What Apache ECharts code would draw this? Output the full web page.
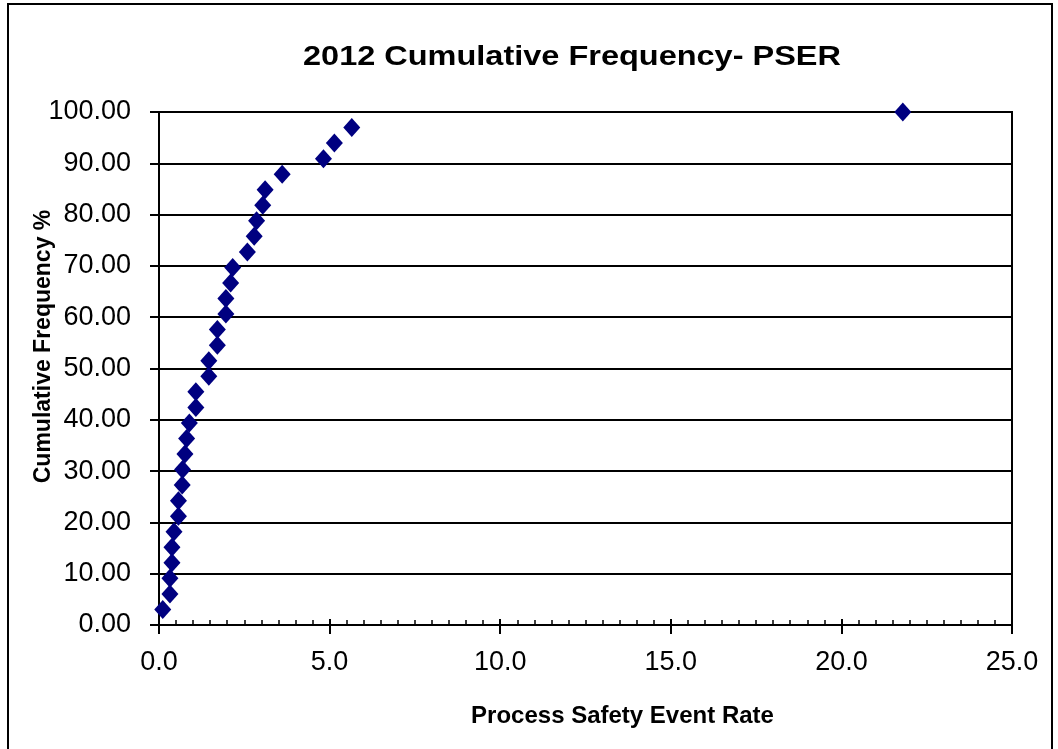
<!DOCTYPE html>
<html>
<head>
<meta charset="utf-8">
<script src="https://cdn.jsdelivr.net/npm/echarts@6/dist/echarts.min.js"></script>
<style>
html,body{margin:0;padding:0;background:#fff;}
#chart{width:1058px;height:749px;}
</style>
</head>
<body>
<div id="chart"></div>
<script>
// Process Safety Event Rate (x) for each point
const rates = [0.11, 0.32, 0.32, 0.38, 0.38, 0.44, 0.57, 0.57, 0.68, 0.69, 0.76, 0.81, 0.89, 1.08, 1.08, 1.46, 1.46, 1.71, 1.71, 1.96, 1.96, 2.10, 2.16, 2.59, 2.79, 2.86, 3.04, 3.11, 3.61, 4.82, 5.14, 5.65, 21.80];
// Cumulative Frequency % (y) for each point
const cumFreq = [3.03, 6.06, 9.09, 12.12, 15.15, 18.18, 21.21, 24.24, 27.27, 30.30, 33.33, 36.36, 39.39, 42.42, 45.45, 48.48, 51.52, 54.55, 57.58, 60.61, 63.64, 66.67, 69.70, 72.73, 75.76, 78.79, 81.82, 84.85, 87.88, 90.91, 93.94, 96.97, 100.00];
const titleText = '2012 Cumulative Frequency- PSER';
const xName = 'Process Safety Event Rate';
const yName = 'Cumulative Frequency %';

const points = rates.map((r, i) => [r, cumFreq[i]]);
const FONT = 'Liberation Sans, Arial, sans-serif';

const chart = echarts.init(document.getElementById('chart'));
chart.setOption({
  backgroundColor: '#fff',
  animation: false,
  graphic: [
    {
      type: 'rect', z: 0, silent: true,
      shape: { x: 8, y: 4, width: 1044, height: 800 },
      style: { fill: 'none', stroke: '#000', lineWidth: 2 }
    },
    {
      type: 'text', z: 10, x: 572, y: 57, scaleX: 1.16,
      style: {
        text: titleText, fill: '#000',
        font: 'bold 28px "Liberation Sans", Arial, sans-serif',
        textAlign: 'center', textVerticalAlign: 'middle'
      }
    }
  ],
  grid: {
    left: 159, right: 46, top: 112, bottom: 124,
    show: true, borderColor: '#000', borderWidth: 2, backgroundColor: '#fff'
  },
  xAxis: [
    {
      type: 'value', position: 'bottom', min: 0, max: 25, interval: 5,
      name: xName, nameLocation: 'middle', nameGap: 79, nameMoveOverlap: false,
      nameTextStyle: { fontFamily: FONT, fontWeight: 'bold', fontSize: 24, color: '#000', padding: [0, 0, 0, 74] },
      axisLine: { show: true, onZero: false, lineStyle: { color: '#000', width: 2 } },
      axisTick: { show: true, inside: false, length: 9, lineStyle: { color: '#000', width: 2 } },
      axisLabel: { fontFamily: FONT, fontSize: 27, color: '#000', margin: 24, formatter: v => v.toFixed(1) },
      splitLine: { show: false }
    },
    {
      type: 'value', position: 'bottom', offset: 0, min: 0, max: 25, interval: 5,
      axisLine: { show: false },
      axisTick: { show: true, inside: true, length: 6, lineStyle: { color: '#000', width: 2 } },
      minorTick: { show: true, splitNumber: 10, length: 5, lineStyle: { color: '#000', width: 1.5 } },
      axisLabel: { show: false },
      splitLine: { show: false }
    }
  ],
  yAxis: {
    type: 'value', min: 0, max: 100, interval: 10,
    name: yName, nameLocation: 'middle', nameGap: 104, nameRotate: 90, nameMoveOverlap: false,
    nameTextStyle: { fontFamily: FONT, fontWeight: 'bold', fontSize: 23, color: '#000', padding: [0, 0, 0, 44] },
    axisLine: { show: true, onZero: false, lineStyle: { color: '#000', width: 2 } },
    axisTick: { show: true, inside: false, length: 9, lineStyle: { color: '#000', width: 2 } },
    axisLabel: { fontFamily: FONT, fontSize: 27, color: '#000', margin: 28, formatter: v => v.toFixed(2) },
    splitLine: { show: true, lineStyle: { color: '#000', width: 2 } }
  },
  series: [{
    type: 'scatter', xAxisIndex: 0, yAxisIndex: 0,
    data: points, symbol: 'diamond', symbolSize: [17, 19], clip: false,
    itemStyle: { color: '#000080', opacity: 1 }, z: 5
  }]
});
</script>
</body>
</html>
